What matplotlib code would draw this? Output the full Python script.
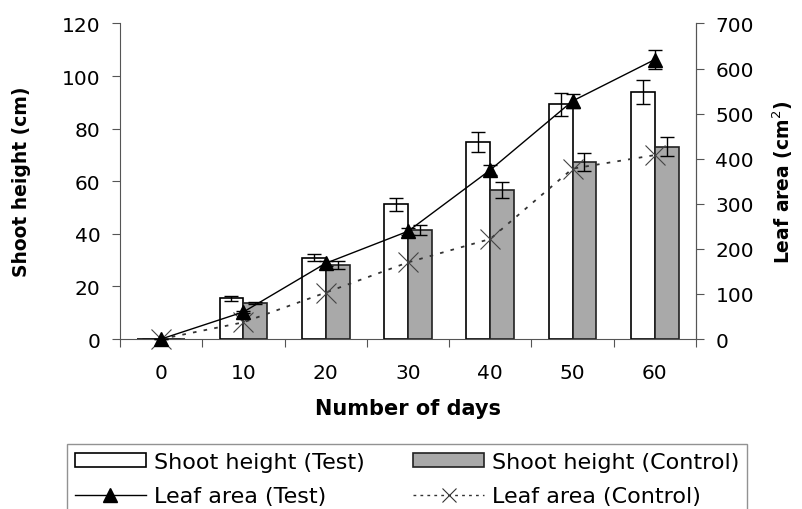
import numpy as np
import matplotlib.pyplot as plt
from matplotlib.patches import Patch
from matplotlib.lines import Line2D

plt.rcParams['font.family'] = ['DejaVu Sans']

days = [0, 10, 20, 30, 40, 50, 60]
shoot_test = [0, 15.5, 31, 51.3, 75, 89.2, 93.8]
shoot_test_err = [0, 1, 1.5, 2.5, 3.8, 4.5, 4.6]
shoot_ctrl = [0, 13.7, 28, 41.4, 56.8, 67.2, 73.1]
shoot_ctrl_err = [0, 0.5, 1.5, 2, 3, 3.4, 3.6]
leaf_test = [0, 60, 168, 239, 375, 528, 620]
leaf_test_err = [0, 3, 5, 8, 12, 15, 22]
leaf_ctrl = [0, 37, 103, 170, 222, 378, 408]

fig = plt.figure(figsize=(8.03, 5.10), dpi=100)
ax = fig.add_axes([0.1494, 0.3333, 0.7173, 0.6187])
ax2 = ax.twinx()

x = np.arange(len(days))
w = 0.29
ax.bar(x - w/2, shoot_test, w, color='white', edgecolor='black', linewidth=1.2,
       yerr=shoot_test_err, capsize=5, error_kw=dict(elinewidth=1, capthick=1))
ax.bar(x + w/2, shoot_ctrl, w, color='#a9a9a9', edgecolor='#222222', linewidth=1.2,
       yerr=shoot_ctrl_err, capsize=5, error_kw=dict(elinewidth=1, capthick=1))

ax2.errorbar(x, leaf_test, yerr=leaf_test_err, color='black', lw=1, marker='^',
             ms=10, capsize=5, capthick=1, elinewidth=1, zorder=5, clip_on=False)
ax2.plot(x, leaf_ctrl, color='#333333', lw=1.3, ls=(0, (2, 4)), marker='x',
         ms=15, mew=0.8, mec='#444444', zorder=4, clip_on=False)

ax.set_xlim(-0.5, 6.5)
ax.set_ylim(0, 120)
ax2.set_ylim(0, 700)
ax.set_yticks(range(0, 121, 20))
ax2.set_yticks(range(0, 701, 100))
ax.set_xticks(np.arange(-0.5, 7, 1))
ax.set_xticklabels([])
ax.set_xticks(x, minor=True)
ax.set_xticklabels([str(d) for d in days], minor=True)
ax.tick_params(axis='x', which='minor', length=0, pad=17, labelsize=14.5)
ax.tick_params(axis='x', which='major', length=6, direction='out', color='#555555')
ax.tick_params(axis='y', labelsize=14.5, length=6, pad=8, color='#555555')
ax2.tick_params(axis='y', labelsize=14.5, length=6, pad=8, color='#555555')

for a in (ax, ax2):
    a.spines['top'].set_visible(False)
    for s in ('left', 'right', 'bottom'):
        a.spines[s].set_color('#555555')
ax2.spines['left'].set_visible(False)
ax2.spines['bottom'].set_visible(False)

ax.set_ylabel('Shoot height (cm)', fontsize=13.5, fontweight='bold', labelpad=22)
ax2.set_ylabel('Leaf area (cm$^2$)', fontsize=13.5, fontweight='bold', labelpad=12)
ax.set_xlabel('Number of days', fontsize=15, fontweight='bold', labelpad=12)

handles = [
    Patch(facecolor='white', edgecolor='black', linewidth=1.2),
    Line2D([], [], color='black', lw=1, marker='^', ms=10),
    Patch(facecolor='#a9a9a9', edgecolor='#222222', linewidth=1.2),
    Line2D([], [], color='#333333', lw=1, ls=(0, (2, 3)), marker='x', ms=10, mew=0.8),
]
labels = ['Shoot height (Test)', 'Leaf area (Test)',
          'Shoot height (Control)', 'Leaf area (Control)']
leg = fig.legend(handles, labels, loc='upper left', bbox_to_anchor=(67/803, 1 - 445/510),
                 ncol=2, fontsize=16, frameon=True, fancybox=False, handlelength=3.2,
                 handleheight=0.6, columnspacing=2.2, handletextpad=0.35,
                 borderpad=0.35, borderaxespad=0, labelspacing=0.65)
leg.get_frame().set_edgecolor('#777777')
leg.get_frame().set_linewidth(1)

fig.savefig('out.png', dpi=100)
